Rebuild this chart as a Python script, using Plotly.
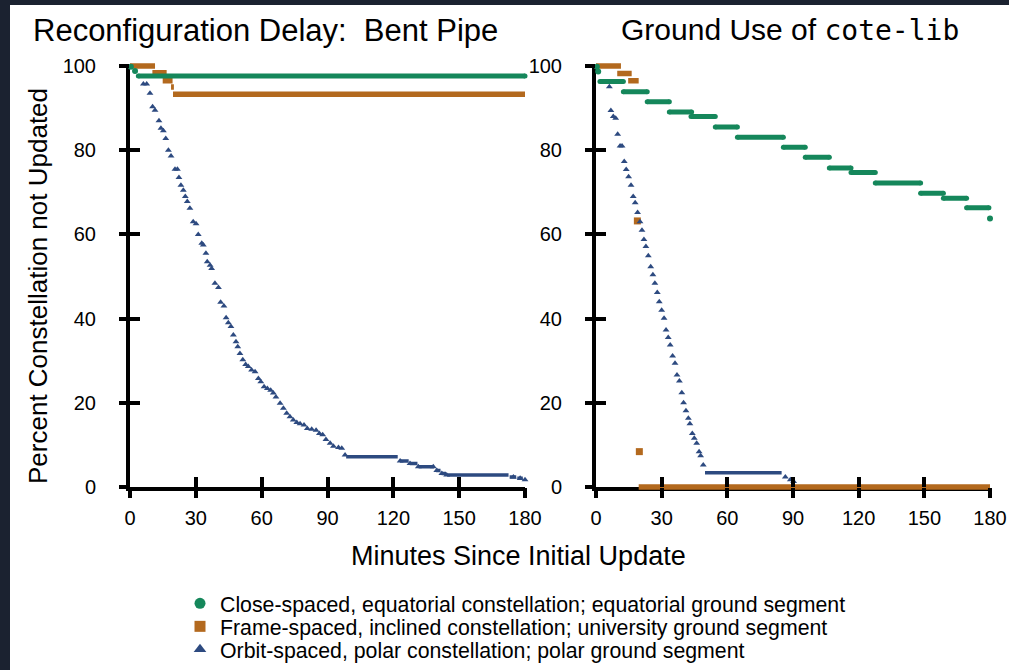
import plotly.graph_objects as go

# ---------------- DATA ----------------
x_ticks = [0, 30, 60, 90, 120, 150, 180]
y_ticks = [0, 20, 40, 60, 80, 100]

series_names = [
    "Close-spaced, equatorial constellation; equatorial ground segment",
    "Frame-spaced, inclined constellation; university ground segment",
    "Orbit-spaced, polar constellation; polar ground segment",
]

# Left panel: Bent Pipe  (segments = start minute, end minute, percent)
bp_close_seg_start = [3.8]
bp_close_seg_end = [180.0]
bp_close_seg_val = [97.6]
bp_close_pt_t = [0.4, 2.3]
bp_close_pt_v = [99.8, 98.8]

bp_frame_seg_start = [0.0, 10.2, 14.9, 18.7, 19.6]
bp_frame_seg_end = [11.4, 16.7, 19.4, 20.0, 181.0]
bp_frame_seg_val = [100.0, 98.4, 96.5, 95.0, 93.3]

bp_orbit_t = [6.1, 7.6, 9.1, 10.3, 11.4, 13.2, 14.1, 15.2, 16.3, 17.5, 18.7, 20.5, 21.6, 22.3,
              23.2, 24.3, 25.2, 26.1, 27.3, 28.8, 30.1, 31.1, 32.7, 33.4, 34.6, 35.2, 36.5, 37.2,
              38.7, 40.3, 41.3, 42.8, 43.8, 44.8, 46.0, 47.1, 48.3, 49.1, 50.1, 51.4, 52.7, 53.9,
              55.4, 57.0, 58.5, 59.6, 61.1, 62.6, 64.1, 65.3, 66.5, 68.4, 69.9, 71.4, 72.9, 74.4,
              76.0, 77.5, 79.3, 80.8, 82.8, 84.8, 86.3, 87.8, 89.3, 91.2, 92.7, 95.0, 96.5, 98.0,
              123.1, 127.6, 131.4, 138.2, 139.8, 142.1, 144.3, 174.7, 177.8, 180.0]
bp_orbit_v = [95.7, 95.7, 93.5, 90.3, 89.5, 87.0, 85.2, 84.6, 82.8, 80.0, 78.6, 75.5, 75.5, 73.5,
              71.7, 70.5, 69.0, 67.8, 66.2, 63.0, 62.5, 60.0, 57.9, 57.5, 55.5, 53.5, 52.7, 51.9,
              48.4, 47.4, 43.9, 43.0, 40.2, 39.0, 38.1, 36.1, 34.5, 33.3, 31.7, 30.2, 29.1, 28.6,
              27.8, 27.4, 25.8, 25.0, 23.8, 23.4, 23.0, 22.3, 21.4, 19.9, 18.7, 17.5, 16.7, 15.9,
              15.3, 15.0, 14.7, 13.9, 13.7, 13.5, 12.7, 12.4, 11.3, 10.4, 9.7, 9.4, 9.2, 7.6,
              6.2, 5.6, 4.8, 4.8, 3.9, 3.2, 2.85, 2.4, 2.1, 1.7]
bp_orbit_flat_start = [98.5, 123.0, 127.5, 131.5, 139.5, 142.0, 144.5, 173.0, 176.5]
bp_orbit_flat_end = [122.0, 127.0, 131.0, 138.5, 141.5, 144.0, 172.5, 176.0, 179.0]
bp_orbit_flat_val = [7.2, 6.2, 5.6, 4.8, 3.9, 3.2, 2.85, 2.4, 2.1]

# Right panel: Ground use of cote-lib
gu_close_seg_start = [1.8, 12.5, 23.4, 33.5, 43.4, 54.5, 64.6, 85.6, 95.6, 106.6, 116.5, 127.6, 148.3, 158.7, 169.3]
gu_close_seg_end = [12.5, 23.4, 33.5, 43.7, 54.5, 64.6, 85.6, 95.6, 106.6, 116.5, 127.6, 148.3, 158.7, 169.3, 179.5]
gu_close_seg_val = [96.3, 93.9, 91.5, 89.1, 88.0, 85.5, 83.1, 80.7, 78.3, 75.8, 74.7, 72.2, 69.8, 68.6, 66.3]
gu_close_pt_t = [0.4, 1.0, 180.0]
gu_close_pt_v = [99.8, 98.7, 63.8]

gu_frame_seg_start = [0.0, 9.7, 14.7, 19.5]
gu_frame_seg_end = [11.4, 16.3, 19.5, 180.5]
gu_frame_seg_val = [100.0, 98.2, 96.5, 0.0]
gu_frame_pt_t = [18.9, 19.8]
gu_frame_pt_v = [63.2, 8.4]

gu_orbit_t = [6.1, 6.8, 7.9, 9.0, 9.9, 11.0, 11.9, 12.9, 13.8, 14.9, 16.0, 17.0, 17.9, 19.0, 20.1,
              21.0, 21.9, 22.8, 23.9, 25.0, 26.0, 26.9, 28.0, 28.9, 30.0, 31.1, 32.0, 33.0, 33.9,
              35.0, 36.1, 37.0, 38.1, 39.2, 40.0, 41.1, 42.2, 42.9, 44.0, 44.9, 46.0, 47.1, 47.8,
              49.0, 86.5, 88.8, 90.3]
gu_orbit_v = [95.1, 89.4, 88.0, 87.6, 83.8, 81.0, 81.0, 77.3, 75.4, 73.7, 71.7, 69.0, 67.5, 65.2, 63.0,
              61.0, 58.8, 57.1, 54.9, 52.3, 50.4, 48.4, 46.2, 44.0, 42.0, 40.1, 37.3, 35.5, 33.7,
              31.1, 29.4, 26.6, 25.2, 22.4, 20.0, 18.1, 16.3, 15.0, 12.7, 11.6, 10.4, 8.4, 7.4,
              5.2, 2.4, 1.7, 1.3]
gu_orbit_flat_start = [49.8]
gu_orbit_flat_end = [84.8]
gu_orbit_flat_val = [3.4]

# ---------------- STYLE ----------------
GREEN = "#15875b"
ORANGE = "#b3691e"
BLUE = "#2d4a80"
DARK = "#1b2230"
FONT = "Liberation Sans, Arial, Helvetica, sans-serif"

W, H = 1009, 670
def px_x(p):
    return p / W
def px_y(p):
    return (H - p) / H

LX = [px_x(130), px_x(525)]
RX = [px_x(596), px_x(990)]
Y0, Y100 = 487, 66
YD = [px_y(Y0), px_y(Y100)]
ppu = (Y0 - Y100) / 100.0
pad = 1.6
YD_DATA = [px_y(Y0 + pad * ppu), px_y(Y100 - pad * ppu)]
Y_DATA_RANGE = [-pad, 100 + pad]


def seg_xy(starts, ends, vals):
    xs, ys = [], []
    for s, e, v in zip(starts, ends, vals):
        xs += [s, e, None]
        ys += [v, v, None]
    return xs, ys


fig = go.Figure()

def dummy(xa, ya):
    fig.add_trace(go.Scatter(x=[None], y=[None], xaxis=xa, yaxis=ya, showlegend=False,
                             hoverinfo="skip", mode="markers"))

# base display axes (lines + labels) -> below data
dummy("x", "y")
dummy("x2", "y2")

def add_panel(xa, ya, cs, ce, cv, cpt, cpv, fs, fe, fv, fpt, fpv, ot, ov, ofs, ofe, ofv):
    x, y = seg_xy(fs, fe, fv)
    fig.add_trace(go.Scatter(x=x, y=y, mode="lines", line=dict(color=ORANGE, width=5.5),
                             xaxis=xa, yaxis=ya, showlegend=False, hoverinfo="skip"))
    if fpt:
        fig.add_trace(go.Scatter(x=fpt, y=fpv, mode="markers", cliponaxis=False,
                                 marker=dict(symbol="square", size=7, color=ORANGE),
                                 xaxis=xa, yaxis=ya, showlegend=False, hoverinfo="skip"))
    x, y = seg_xy(cs, ce, cv)
    fig.add_trace(go.Scatter(x=x, y=y, mode="lines+markers", cliponaxis=False,
                             line=dict(color=GREEN, width=5),
                             marker=dict(symbol="circle", size=5, color=GREEN),
                             xaxis=xa, yaxis=ya, showlegend=False, hoverinfo="skip"))
    fig.add_trace(go.Scatter(x=cpt, y=cpv, mode="markers", cliponaxis=False,
                             marker=dict(symbol="circle", size=6, color=GREEN),
                             xaxis=xa, yaxis=ya, showlegend=False, hoverinfo="skip"))
    x, y = seg_xy(ofs, ofe, ofv)
    fig.add_trace(go.Scatter(x=x, y=y, mode="lines", line=dict(color=BLUE, width=3.5),
                             xaxis=xa, yaxis=ya, showlegend=False, hoverinfo="skip"))
    fig.add_trace(go.Scatter(x=ot, y=ov, mode="markers", cliponaxis=False,
                             marker=dict(symbol="triangle-up", size=6, color=BLUE),
                             xaxis=xa, yaxis=ya, showlegend=False, hoverinfo="skip"))

add_panel("x3", "y3", bp_close_seg_start, bp_close_seg_end, bp_close_seg_val, bp_close_pt_t, bp_close_pt_v,
          bp_frame_seg_start, bp_frame_seg_end, bp_frame_seg_val, [], [],
          bp_orbit_t, bp_orbit_v, bp_orbit_flat_start, bp_orbit_flat_end, bp_orbit_flat_val)
add_panel("x4", "y4", gu_close_seg_start, gu_close_seg_end, gu_close_seg_val, gu_close_pt_t, gu_close_pt_v,
          gu_frame_seg_start, gu_frame_seg_end, gu_frame_seg_val, gu_frame_pt_t, gu_frame_pt_v,
          gu_orbit_t, gu_orbit_v, gu_orbit_flat_start, gu_orbit_flat_end, gu_orbit_flat_val)

# legend entries: one legend per row for exact row spacing
legend_ids = ["legend", "legend2", "legend3"]
legend_bottom_px = [624, 647, 670]
for name, col, sym, lid in zip(series_names, [GREEN, ORANGE, BLUE], ["circle", "square", "triangle-up"], legend_ids):
    fig.add_trace(go.Scatter(x=[None], y=[None], mode="markers", name=name, legend=lid,
                             marker=dict(symbol=sym, size=11, color=col),
                             xaxis="x3", yaxis="y3", hoverinfo="skip"))

# tick overlays above data
dummy("x5", "y5")
dummy("x6", "y6")
dummy("x7", "y7")
dummy("x8", "y8")

tickfont = dict(family=FONT, size=20, color="black")
common = dict(showgrid=False, zeroline=False, fixedrange=True, automargin=False)

def base_x(dom, anchor):
    return dict(domain=dom, range=[0, 180], tickvals=x_ticks, showline=True, linecolor="black",
                linewidth=4, ticks="", tickfont=tickfont, anchor=anchor, ticklabelstandoff=10, **common)

def base_y(anchor):
    return dict(domain=YD, range=[0, 100], tickvals=y_ticks, showline=True, linecolor="black",
                linewidth=4, ticks="inside", ticklen=10, tickwidth=4, tickcolor="black",
                tickfont=tickfont, anchor=anchor, ticklabelstandoff=26, **common)

def data_x(dom, anchor):
    return dict(domain=dom, range=[0, 180], visible=False, anchor=anchor, **common)

def data_y(anchor):
    return dict(domain=YD_DATA, range=Y_DATA_RANGE, visible=False, anchor=anchor, **common)

def tick_x(dom, anchor, direction):
    return dict(domain=dom, range=[0, 180], tickvals=x_ticks, showline=False, ticks=direction,
                ticklen=10, tickwidth=4, tickcolor="black", showticklabels=False, anchor=anchor, **common)

def tick_y(anchor, direction):
    d = dict(domain=YD, range=[0, 100], tickvals=y_ticks, showline=False, showticklabels=False,
             anchor=anchor, **common)
    if direction:
        d.update(ticks=direction, ticklen=10, tickwidth=4, tickcolor="black")
    else:
        d.update(ticks="")
    return d

legend_layout = {}
for lid, bottom in zip(legend_ids, legend_bottom_px):
    legend_layout[lid] = dict(x=px_x(180), y=px_y(bottom), xanchor="left", yanchor="bottom",
                              bgcolor="rgba(0,0,0,0)", font=dict(family=FONT, size=21.3, color="black"),
                              itemclick=False, itemdoubleclick=False)

fig.update_layout(
    width=W, height=H,
    margin=dict(l=0, r=0, t=0, b=0),
    paper_bgcolor="white", plot_bgcolor="rgba(0,0,0,0)",
    hovermode=False,
    font=dict(family=FONT, color="black"),
    xaxis=base_x(LX, "y"), yaxis=base_y("x"),
    xaxis2=base_x(RX, "y2"), yaxis2=base_y("x2"),
    xaxis3=data_x(LX, "y3"), yaxis3=data_y("x3"),
    xaxis4=data_x(RX, "y4"), yaxis4=data_y("x4"),
    xaxis5=tick_x(LX, "y5", "outside"), yaxis5=tick_y("x5", "outside"),
    xaxis6=tick_x(RX, "y6", "outside"), yaxis6=tick_y("x6", "outside"),
    xaxis7=tick_x(LX, "y7", "inside"), yaxis7=tick_y("x7", None),
    xaxis8=tick_x(RX, "y8", "inside"), yaxis8=tick_y("x8", None),
    showlegend=True,
    shapes=[
        dict(type="rect", xref="paper", yref="paper", x0=-0.05, x1=px_x(10), y0=-0.05, y1=1.05,
             fillcolor=DARK, line=dict(width=0), layer="below"),
        dict(type="rect", xref="paper", yref="paper", x0=-0.05, x1=1.05, y0=px_y(5), y1=1.05,
             fillcolor=DARK, line=dict(width=0), layer="below"),
    ],
    annotations=[
        dict(text="Reconfiguration Delay:\u00a0 Bent Pipe", xref="paper", yref="paper",
             x=px_x(265), y=px_y(30), xanchor="center", yanchor="middle", showarrow=False,
             font=dict(family=FONT, size=31, color="black")),
        dict(text="Ground Use of <span style=\"font-family:'DejaVu Sans Mono', monospace; font-size:28px\">cote-lib</span>",
             xref="paper", yref="paper",
             x=px_x(790), y=px_y(30), xanchor="center", yanchor="middle", showarrow=False,
             font=dict(family=FONT, size=30, color="black")),
        dict(text="Minutes Since Initial Update", xref="paper", yref="paper",
             x=px_x(518), y=px_y(556), xanchor="center", yanchor="middle", showarrow=False,
             font=dict(family=FONT, size=27, color="black")),
        dict(text="Percent Constellation not Updated", xref="paper", yref="paper",
             x=px_x(38), y=px_y(286), xanchor="center", yanchor="middle", showarrow=False,
             textangle=-90, font=dict(family=FONT, size=26, color="black")),
    ],
    **legend_layout,
)

fig.write_html("out.html")
